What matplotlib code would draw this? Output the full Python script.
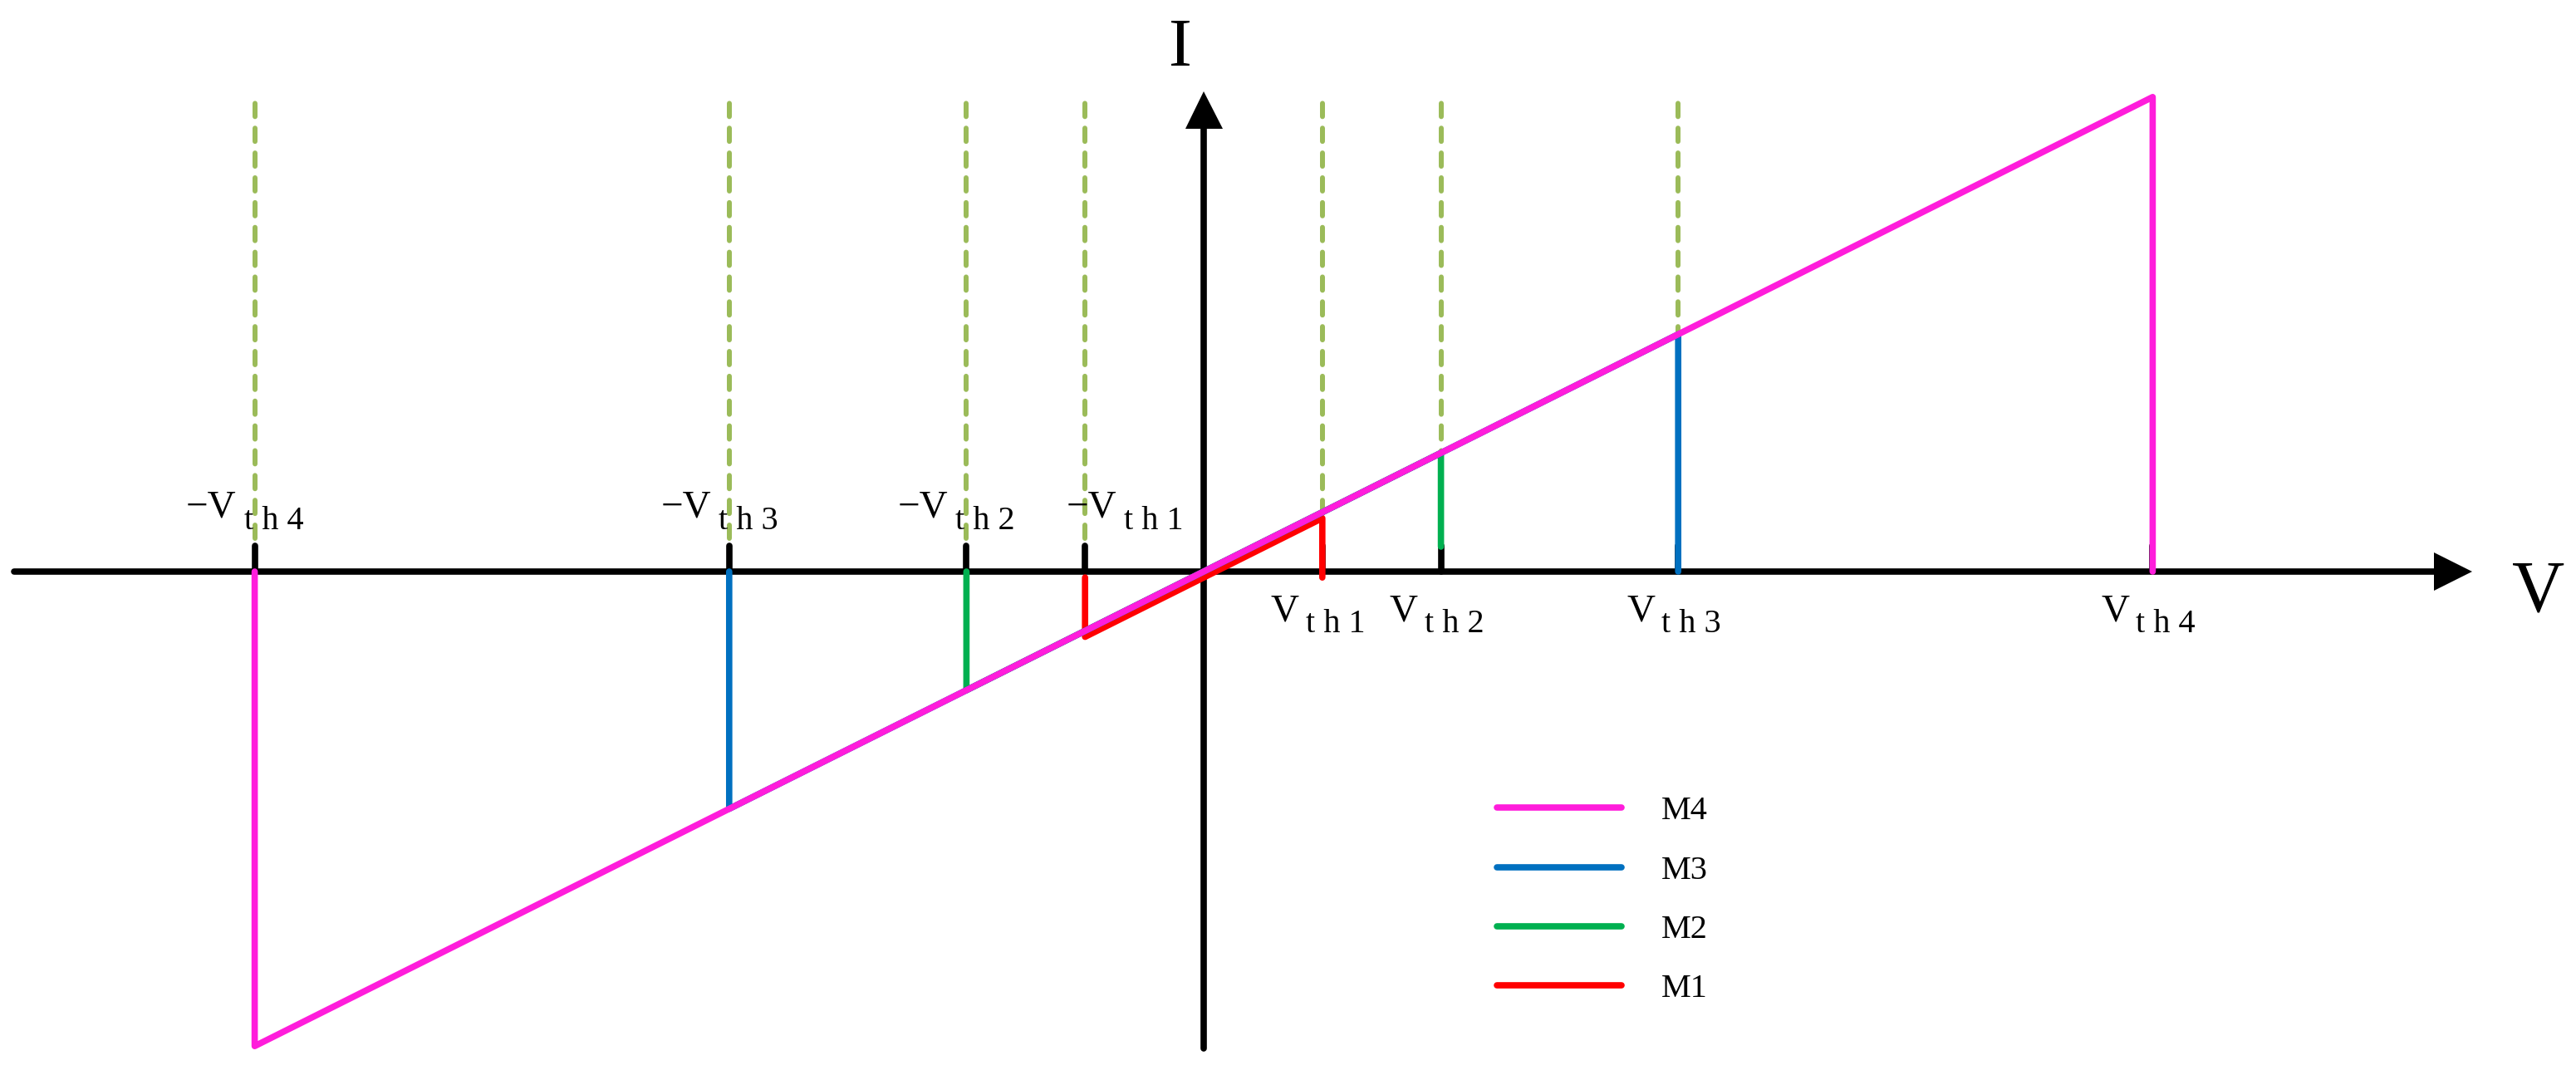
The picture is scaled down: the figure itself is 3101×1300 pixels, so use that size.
import matplotlib
matplotlib.use('Agg')
import matplotlib.pyplot as plt

plt.rcParams['font.family'] = ['Liberation Serif', 'DejaVu Serif']
plt.rcParams['lines.scale_dashes'] = False

# threshold voltages, in units of Vth1
vth = [1, 2, 4, 8]
subs = ['th1', 'th2', 'th3', 'th4']
label_shift = [60, 0, 0, 0]   # px shift of the -Vth labels

# I-V paths of the four memristors
m1_v = [-1, -1, 1, 1]
m1_i = [-0.1, -1.1, 0.9, -0.1]
m2_v = [-2, -2, 2, 2]
m2_i = [0, -2, 2, 0.42]
m3_v = [-4, -4, 4, 4]
m3_i = [0, -4, 4, 0]
m4_v = [-8, -8, 8, 8]
m4_i = [0, -8, 8, 0]
names = ['M1', 'M2', 'M3', 'M4']
colors = ['#FF0000', '#00B050', '#0070C0', '#FF1DDB']

# guide lines
dash_v = [-8, -4, -2, -1, 1, 2, 4]
tick_v = [-8, -4, -2, -1, 1, 2, 4, 8]

W, H = 3101, 1300
ox, oy = 1449, 688          # origin in pixels
sx, sy = 142.8, 71.4        # pixels per unit

fig = plt.figure(figsize=(W / 100, H / 100), dpi=100)
ax = fig.add_axes([0, 0, 1, 1])
ax.set_xlim(-ox / sx, (W - ox) / sx)
ax.set_ylim(-(H - oy) / sy, oy / sy)
ax.axis('off')

lw = 5.5
# dashed threshold guides
ax.vlines(dash_v, 0.56, 8.05, colors='#9BBB59', lw=4.3, linestyles=(0, (11.5, 10)),
          capstyle='round', zorder=1)
# small black ticks
ax.vlines(tick_v, 0, 0.43, colors='k', lw=lw, capstyle='round', zorder=2)

# axes with arrow heads
ax.plot([-10.03, 10.4], [0, 0], color='k', lw=lw, solid_capstyle='round', zorder=3)
ax.plot([0, 0], [-8.04, 7.5], color='k', lw=lw, solid_capstyle='round', zorder=3)
ax.plot([10.53], [0], marker='>', ms=33, mew=0, color='k', zorder=3)
ax.plot([0], [7.79], marker='^', ms=32.4, mew=0, color='k', zorder=3)
ax.text(-28 / sx, (oy - 79) / sy, 'I', fontsize=60, ha='center', va='baseline')
ax.text((3056 - ox) / sx, (oy - 736) / sy, 'V', fontsize=63, ha='center', va='baseline')

lines = []
for v, i, c, n, z in zip([m1_v, m2_v, m3_v, m4_v], [m1_i, m2_i, m3_i, m4_i],
                         colors, names, [4, 5, 6, 7]):
    ln, = ax.plot(v, i, color=c, lw=lw, label=n, solid_capstyle='round',
                  solid_joinstyle='round', zorder=z)
    lines.append(ln)

# threshold labels
for t, s, d in zip(vth, subs, label_shift):
    ax.annotate('\u2212V', xy=(-t, 0), xytext=(d - 22, 65), textcoords='offset pixels',
                ha='right', va='baseline', fontsize=34)
    ax.annotate(' '.join(s), xy=(-t, 0), xytext=(d - 13, 51), textcoords='offset pixels',
                ha='left', va='baseline', fontsize=29)
    ax.annotate('V', xy=(t, 0), xytext=(-28, -60), textcoords='offset pixels',
                ha='right', va='baseline', fontsize=34)
    ax.annotate(' '.join(s), xy=(t, 0), xytext=(-20, -73), textcoords='offset pixels',
                ha='left', va='baseline', fontsize=29)

ax.legend(lines[::-1], names[::-1], loc='upper left',
          bbox_to_anchor=(1802 / W, 1 - 958 / H), bbox_transform=fig.transFigure,
          frameon=False, fontsize=29, handlelength=3.72, handletextpad=1.19,
          labelspacing=0.85, borderpad=0, borderaxespad=0)

fig.savefig('out.png', dpi=100)
